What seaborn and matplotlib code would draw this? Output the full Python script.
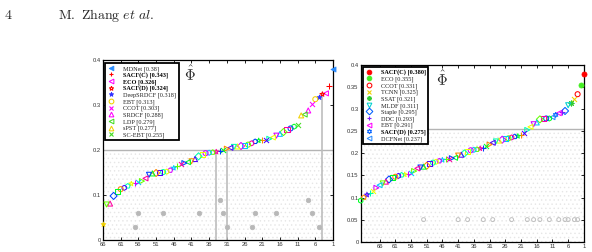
import numpy as np
import pandas as pd
import seaborn as sns
import matplotlib.pyplot as plt
from matplotlib.lines import Line2D

# ---- left panel (rank 1 = best) ----
left_values = [0.380, 0.343, 0.326, 0.324, 0.318, 0.313, 0.303, 0.288, 0.279, 0.277,
               0.255, 0.252, 0.248, 0.245, 0.240, 0.236, 0.232, 0.228, 0.225, 0.223,
               0.222, 0.221, 0.219, 0.215, 0.212, 0.210, 0.209, 0.208, 0.207, 0.205,
               0.203, 0.201, 0.198, 0.196, 0.195, 0.194, 0.193, 0.190, 0.186, 0.180,
               0.175, 0.173, 0.171, 0.168, 0.165, 0.160, 0.155, 0.152, 0.151, 0.150,
               0.149, 0.148, 0.145, 0.137, 0.131, 0.129, 0.127, 0.125, 0.120, 0.116,
               0.113, 0.108, 0.098, 0.081, 0.079, 0.035]
left_names = ["MDNet", "SACF(C)", "ECO", "SACF(D)", "DeepSRDCF", "EBT", "CCOT",
              "SRDCF", "LDP", "sPST", "SC-EBT"]
left_scores = ["0.38", "0.343", "0.326", "0.324", "0.318", "0.313", "0.303",
               "0.288", "0.279", "0.277", "0.255"]
left_bold = ["SACF(C)", "ECO", "SACF(D)"]
left_threshold = 0.2
left_marked_ranks = [34, 31, 4]
left_dot_ranks = [56, 49, 39, 32, 23, 17, 7, 57, 31, 24, 5, 33, 8]
left_dot_levels = [0.06, 0.06, 0.06, 0.06, 0.06, 0.06, 0.06, 0.03, 0.03, 0.03, 0.03, 0.09, 0.09]

# ---- right panel ----
right_values = [0.380, 0.355, 0.334, 0.322, 0.315, 0.309, 0.296, 0.293, 0.291, 0.287,
                0.282, 0.279, 0.279, 0.278, 0.277, 0.270, 0.266, 0.260, 0.253, 0.247,
                0.242, 0.239, 0.238, 0.236, 0.234, 0.233, 0.231, 0.229, 0.227, 0.224,
                0.220, 0.216, 0.213, 0.211, 0.209, 0.208, 0.207, 0.204, 0.200, 0.197,
                0.195, 0.190, 0.189, 0.188, 0.187, 0.185, 0.183, 0.181, 0.179, 0.176,
                0.172, 0.170, 0.168, 0.166, 0.160, 0.156, 0.154, 0.152, 0.151, 0.149,
                0.147, 0.145, 0.141, 0.136, 0.132, 0.128, 0.122, 0.115, 0.110, 0.106,
                0.100, 0.093]
right_names = ["SACF(C)", "ECO", "CCOT", "TCNN", "SSAT", "MLDF", "Staple", "DDC",
               "EBT", "SACF(D)", "DCFNet"]
right_scores = ["0.380", "0.355", "0.331", "0.325", "0.321", "0.311", "0.295",
                "0.293", "0.291", "0.275", "0.237"]
right_bold = ["SACF(C)", "SACF(D)"]
right_threshold = 0.256
right_dot_ranks = [52, 41, 38, 33, 30, 24, 19, 17, 15, 12, 9, 7, 6, 4, 3]
right_dot_levels = [0.05] * len(right_dot_ranks)

rank_ticks = list(range(66, 0, -5))

# marker styles: (marker, colour, fill) fill: 'open', 'full', 'line'
left_styles = [("<", "#2a8cff", "full"), ("+", "#ff0000", "line"), ("<", "#ff00ff", "open"),
               ("*", "#ff0000", "open"), ("*", "#3030ff", "full"), ("o", "#f0d000", "open"),
               ("x", "#ff00ff", "line"), ("^", "#ff00ff", "open"), ("<", "#44dd22", "open"),
               ("^", "#f0d000", "open"), ("x", "#44dd22", "line")]
right_styles = [("o", "#ff0000", "full"), ("o", "#44ee22", "full"), ("o", "#ff0000", "open"),
                ("x", "#f0d000", "line"), ((8, 2, 0), "#33cc33", "line"), ("v", "#00d0d0", "open"),
                ("D", "#0060ff", "open"), ("+", "#7a1fff", "line"), ("<", "#ff00ff", "open"),
                ((6, 1, 0), "#0060ff", "open"), ("<", "#2a8cff", "open")]
# last-ranked tracker on the left
left_tail_style = ("*", "#f0d000", "full")

other_markers = ["o", "s", "D", "^", "v", "<", ">", "x", "+", "*", "p", "h"]
hues = sns.color_palette("hsv", 10)

sns.set_style("ticks")
plt.rcParams["font.family"] = ["Liberation Sans", "DejaVu Sans"]
plt.rcParams["mathtext.fontset"] = "cm"
plt.rcParams["hatch.linewidth"] = 0.5

fig = plt.figure(figsize=(5.92, 2.52), dpi=100)
fig.patch.set_facecolor("white")


def style_for(i, styles, n, tail=None):
    if i < len(styles):
        return styles[i]
    if tail is not None and i == n - 1:
        return tail
    m = other_markers[i % len(other_markers)]
    fill = "line" if m in ("x", "+") else "open"
    return (m, hues[(i * 3) % len(hues)], fill)


def draw_point(ax, r, v, m, c, fill, s=13):
    if fill == "open":
        sns.scatterplot(x=[r], y=[v], marker=m, color=c, facecolor="none", edgecolor=c,
                        s=s, linewidth=0.75, ax=ax, clip_on=False, zorder=5, legend=False)
    elif fill == "full":
        sns.scatterplot(x=[r], y=[v], marker=m, color=c, edgecolor=c,
                        s=s, linewidth=0.6, ax=ax, clip_on=False, zorder=5, legend=False)
    else:
        sns.scatterplot(x=[r], y=[v], marker=m, color=c, s=s, linewidth=0.75,
                        ax=ax, clip_on=False, zorder=5, legend=False)


def draw_panel(ax, values, names, scores, styles, bold, threshold, dot_ranks, dot_levels,
               dot_open, xleft, yticks, ylabels, legend_anchor, tail=None):
    ranks = np.arange(1, len(values) + 1)
    df = pd.DataFrame({"rank": ranks, "value": values})

    # dotted texture under the threshold line
    ax.fill_between([xleft, 1], 0, threshold, facecolor="none", edgecolor="#e6e6e6",
                    hatch="....", linewidth=0, zorder=0)
    ax.axhline(threshold, color="#b4b4b4", lw=1.0, zorder=1)

    for i, row in df.iterrows():
        m, c, fill = style_for(i, styles, len(df), tail)
        draw_point(ax, row["rank"], row["value"], m, c, fill)

    if dot_open:
        sns.scatterplot(x=dot_ranks, y=dot_levels, marker="o", color="#c0c0c0",
                        facecolor="none", edgecolor="#c0c0c0", s=8, linewidth=0.7,
                        ax=ax, zorder=3, legend=False)
    else:
        sns.scatterplot(x=dot_ranks, y=dot_levels, marker="o", color="#b8b8b8",
                        edgecolor="#b8b8b8", s=11, linewidth=0.5, ax=ax, zorder=3, legend=False)

    ax.set_xlim(xleft, 1)
    ax.set_ylim(0, 0.4)
    ax.set_xticks(rank_ticks)
    ax.set_xticklabels([str(t) for t in rank_ticks])
    ax.set_yticks(yticks)
    ax.set_yticklabels(ylabels)
    ax.set_xlabel("")
    ax.set_ylabel("")
    ax.tick_params(direction="in", length=2.5, width=0.6, labelsize=4.2, pad=1.5,
                   top=True, right=True, colors="black", labelcolor="#333333")
    for sp in ax.spines.values():
        sp.set_visible(True)
        sp.set_linewidth(0.9)
        sp.set_color("black")

    handles = []
    for i in range(len(names)):
        m, c, fill = styles[i]
        if fill == "open":
            h = Line2D([], [], ls="none", marker=m, mfc="none", mec=c, ms=3.4, mew=0.75)
        elif fill == "full":
            h = Line2D([], [], ls="none", marker=m, mfc=c, mec=c, ms=3.4, mew=0.6)
        else:
            h = Line2D([], [], ls="none", marker=m, color=c, ms=3.4, mew=0.8)
        handles.append(h)
    labels = [f"{n} [{s}]" for n, s in zip(names, scores)]
    leg = ax.legend(handles, labels, loc="upper left", bbox_to_anchor=legend_anchor,
                    borderaxespad=0, frameon=True, fancybox=False, edgecolor="black",
                    framealpha=1, handlelength=1.1, handletextpad=1.4, labelspacing=0.12,
                    borderpad=0.4, prop={"family": "Liberation Serif", "size": 4.5})
    leg.get_frame().set_linewidth(1.3)
    leg.set_zorder(10)
    for t, n in zip(leg.get_texts(), names):
        t.set_color("#222222")
        if n in bold:
            t.set_fontweight("bold")
            t.set_color("black")
    return leg


ax1 = fig.add_axes([0.174, 0.0476, 0.3885, 0.714])
ax2 = fig.add_axes([0.6093, 0.0409, 0.377, 0.701])

draw_panel(ax1, left_values, left_names, left_scores, left_styles, left_bold, left_threshold,
           left_dot_ranks, left_dot_levels, False, 66,
           [0, 0.1, 0.2, 0.3, 0.4], ["0", "0.1", "0.2", "0.3", "0.4"], (0.009, 0.983),
           tail=left_tail_style)
for r in left_marked_ranks:
    ax1.plot([r, r], [0, left_values[r - 1]], color="#bdbdbd", lw=1.2, zorder=2)

draw_panel(ax2, right_values, right_names, right_scores, right_styles, right_bold,
           right_threshold, right_dot_ranks, right_dot_levels, True, 72,
           [0, 0.05, 0.1, 0.15, 0.2, 0.25, 0.3, 0.35, 0.4],
           ["0", "0.05", "0.1", "0.15", "0.2", "0.25", "0.3", "0.35", "0.4"], (0.009, 0.989))

ax1.text(0.378, 0.925, r"$\hat{\Phi}$", transform=ax1.transAxes, fontsize=10.5,
         ha="center", va="center")
ax2.text(0.363, 0.923, r"$\hat{\Phi}$", transform=ax2.transAxes, fontsize=10.5,
         ha="center", va="center")

# page header
fig.text(0.006, 0.94, r"$\mathrm{4}$", fontsize=10, ha="left", va="center")
fig.text(0.098, 0.94, r"$\mathrm{M.\ Zhang}\ \mathit{et\ al.}$", fontsize=10,
         ha="left", va="center")

fig.savefig("out.png", dpi=100, facecolor="white")
